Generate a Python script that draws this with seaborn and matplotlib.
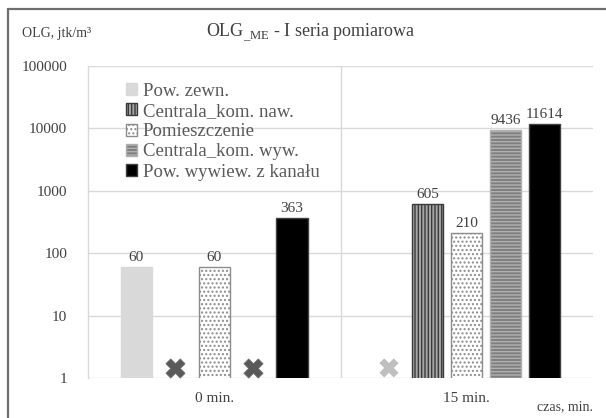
import numpy as np
import pandas as pd
import matplotlib
matplotlib.use("Agg")
import matplotlib.pyplot as plt
from matplotlib.patches import Patch
from matplotlib.lines import Line2D
import seaborn as sns

# ---- data ----
categories = ["0 min.", "15 min."]
series = ["Pow. zewn.", "Centrala_kom. naw.", "Pomieszczenie",
          "Centrala_kom. wyw.", "Pow. wywiew. z kanału"]
pow_zewn = [60, None]
centrala_naw = [None, 605]
pomieszczenie = [60, 210]
centrala_wyw = [None, 9436]
pow_wywiew = [363, 11614]
values = [pow_zewn, centrala_naw, pomieszczenie, centrala_wyw, pow_wywiew]
y_ticks = [1, 10, 100, 1000, 10000, 100000]
y_ticklabels = ["1", "10", "100", "1000", "10000", "100000"]

# ---- styles ----
styles = {
    "Pow. zewn.": dict(facecolor="#d9d9d9", edgecolor="#d9d9d9", hatch=None),
    "Centrala_kom. naw.": dict(facecolor="#a6a6a6", edgecolor="#3a3a3a", hatch="|||||"),
    "Pomieszczenie": dict(facecolor="white", edgecolor="#8c8c8c", hatch="...."),
    "Centrala_kom. wyw.": dict(facecolor="#7f7f7f", edgecolor="#b0b0b0", hatch="-----"),
    "Pow. wywiew. z kanału": dict(facecolor="black", edgecolor="#404040", hatch=None),
}
marker_colors = {"Pow. zewn.": "#bfbfbf", "Centrala_kom. naw.": "#595959",
                 "Centrala_kom. wyw.": "#595959"}

rows = []
for s, vals in zip(series, values):
    for c, v in zip(categories, vals):
        rows.append(dict(cat=c, series=s, val=(v if v is not None else 1.0),
                         missing=v is None))
df = pd.DataFrame(rows)

sns.set_theme(style="white")
plt.rcParams["font.family"] = ["Liberation Serif", "DejaVu Serif"]
plt.rcParams["mathtext.fontset"] = "custom"
plt.rcParams["mathtext.rm"] = "Liberation Serif"
plt.rcParams["hatch.linewidth"] = 1.0

fig = plt.figure(figsize=(6.06, 4.18), dpi=100)
ax = fig.add_axes([88 / 606, 1 - 378 / 418, (593 - 88) / 606, (378 - 66) / 418])

sns.barplot(data=df, x="cat", y="val", hue="series", order=categories,
            hue_order=series, width=0.77, gap=0.2, ax=ax, legend=False,
            linewidth=0.8)
ax.set_yscale("log")
ax.set_ylim(1, 100000)
ax.set_xlim(-0.5, 1.5)

for s, cont in zip(series, ax.containers):
    st = styles[s]
    for p, c in zip(cont.patches, categories):
        p.set_facecolor(st["facecolor"])
        p.set_edgecolor(st["edgecolor"])
        if st["hatch"]:
            p.set_hatch(st["hatch"])
        p.set_linewidth(1.0)
        miss = df[(df.series == s) & (df.cat == c)].missing.iloc[0]
        xc = p.get_x() + p.get_width() / 2
        if miss:
            p.set_visible(False)
            ax.scatter([xc], [1.45], marker="X", s=190,
                       color=marker_colors.get(s, "#808080"),
                       edgecolor="#707070" if s != "Pow. zewn." else "none",
                       linewidth=0.6, zorder=5, clip_on=False)
        else:
            v = p.get_height()
            ax.text(xc, v * 1.12, f"{int(round(v))}", ha="center", va="bottom",
                    fontsize=11, color="#404040")

# grid
for yt in y_ticks:
    ax.axhline(yt, color="#d9d9d9", lw=1, zorder=0)
ax.axvline(0.5, color="#d9d9d9", lw=1, zorder=0)
for sp in ["top", "right", "bottom"]:
    ax.spines[sp].set_visible(False)
ax.spines["left"].set_color("#d9d9d9")
ax.spines["left"].set_linewidth(1)

ax.set_yticks(y_ticks)
ax.set_yticklabels(y_ticklabels)
ax.yaxis.set_minor_locator(matplotlib.ticker.NullLocator())
ax.tick_params(axis="y", length=0, pad=15, labelsize=11, labelcolor="#404040")
ax.tick_params(axis="x", length=0, pad=10, labelsize=11, labelcolor="#404040")
ax.set_xlabel("")
ax.set_ylabel("")

# legend
handles = [Patch(facecolor=styles[s]["facecolor"], edgecolor=styles[s]["edgecolor"],
                 hatch=styles[s]["hatch"], linewidth=1.0) for s in series]
leg = ax.legend(handles, series, loc="upper left", bbox_to_anchor=(0.06, 0.97),
                frameon=False, fontsize=13.5, labelspacing=0.17,
                handlelength=0.6, handleheight=0.6, handletextpad=0.3,
                borderaxespad=0.0)
for t in leg.get_texts():
    t.set_color("#595959")

# titles and axis texts
fig.text(311 / 606, 1 - 33 / 418, "OLG$_{\\_\\mathrm{ME}}$ - I seria pomiarowa",
         ha="center", va="center", fontsize=13, color="#404040")
fig.text(22 / 606, 1 - 33 / 418, "OLG, jtk/m³", ha="left", va="center",
         fontsize=10, color="#404040")
fig.text(593 / 606, 1 - 407 / 418, "czas, min.", ha="right", va="center",
         fontsize=10, color="#404040")

# outer frame
fig.add_artist(Line2D([7.5 / 606, 7.5 / 606], [0, 1 - 8.5 / 418],
                      color="#6e6e6e", lw=1.6, transform=fig.transFigure))
fig.add_artist(Line2D([7.5 / 606, 1], [1 - 8.5 / 418, 1 - 8.5 / 418],
                      color="#6e6e6e", lw=1.6, transform=fig.transFigure))

fig.savefig("out.png", dpi=100)
